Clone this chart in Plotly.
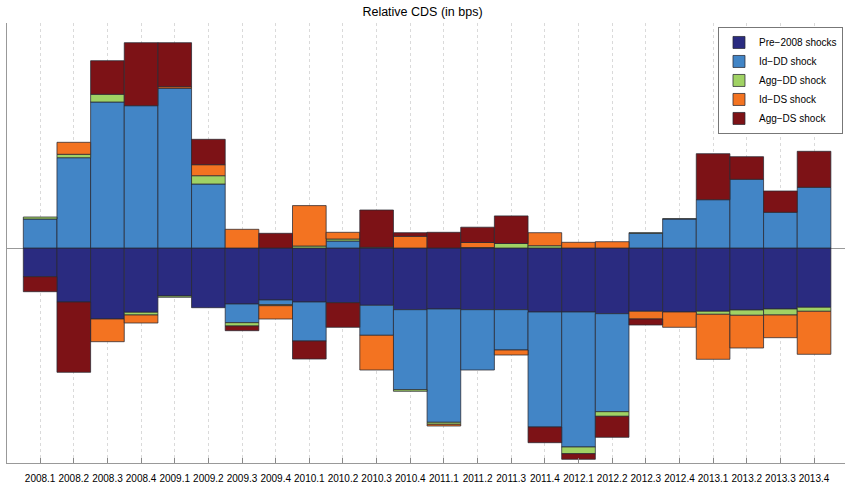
import plotly.graph_objects as go

quarters = ["2008.1", "2008.2", "2008.3", "2008.4", "2009.1", "2009.2", "2009.3", "2009.4",
            "2010.1", "2010.2", "2010.3", "2010.4", "2011.1", "2011.2", "2011.3", "2011.4",
            "2012.1", "2012.2", "2012.3", "2012.4", "2013.1", "2013.2", "2013.3", "2013.4"]

pre_2008 = [-28.7, -54, -71, -64.3, -48, -59.7, -56, -52, -54, -54.7, -57.3, -61.7,
            -61, -61.7, -61.7, -64, -64, -65.7, -63.3, -64, -63.3, -62, -61, -59.3]
id_dd = [29, 90.3, 146, 142.3, 159.7, 64, -18.7, -4.7, -39, 7, -30, -80,
         -113.3, -60.3, -40.3, -115, -135, -98, 14.7, 29, 48.3, 68.7, 35.7, 60.7]
agg_dd = [2, 3.4, 7.7, -2.7, -1.3, 8.3, -3.3, -1, 2, 2, 0.7, -1.6,
          -2, 0.5, 4.5, 2.3, -6.7, -4.6, 0.6, 0.3, -3, -5.3, -6, -4]
id_ds = [None, 12, -22.7, -8, 1.6, 11, 18.7, -13.3, 40.4, 6.7, -34.7, 11.7,
         -1.7, 5, -5, 13, 5.7, 6.3, -7.7, -15.3, -45, -32.7, -22.7, -43]
agg_ds = [-15, -70.3, 33.6, 63, 44, 25.4, -4.7, 14.7, -18, -24.6, 37.3, 3.6,
          15.7, 15.3, 27.6, -15.7, -5.6, -21, -6, None, 46, 22.6, 21.3, 36]

series = [
    ("Pre\u22122008 shocks", pre_2008, "rgb(42,43,128)"),
    ("Id\u2212DD shock", id_dd, "rgb(66,133,198)"),
    ("Agg\u2212DD shock", agg_dd, "rgb(160,210,100)"),
    ("Id\u2212DS shock", id_ds, "rgb(243,115,33)"),
    ("Agg\u2212DS shock", agg_ds, "rgb(125,18,22)"),
]

x = list(range(len(quarters)))
fig = go.Figure()
for name, vals, col in series:
    fig.add_trace(go.Bar(
        x=x, y=vals, name=name, width=1,
        marker=dict(color=col, line=dict(color="rgba(40,40,50,0.75)", width=1)),
    ))

fig.update_layout(
    barmode="relative",
    width=845, height=488,
    margin=dict(l=7, r=0, t=23, b=25),
    paper_bgcolor="white", plot_bgcolor="white",
    font=dict(family="Liberation Sans, Arial, sans-serif", size=10, color="black"),
    title=dict(text="Relative CDS (in bps)", x=0.5, xanchor="center",
               y=1 - 12 / 488, yanchor="middle", yref="container",
               font=dict(size=12.5)),
    showlegend=True,
    legend=dict(x=0.9976, xanchor="right", y=0.991, yanchor="top",
                bgcolor="white", bordercolor="#777", borderwidth=1,
                traceorder="normal", font=dict(size=10),
                itemwidth=30, tracegroupgap=0),
    xaxis=dict(range=[-0.985, 23.92], tickmode="array", tickvals=x, ticktext=quarters,
               showgrid=True, griddash="dot", gridcolor="#dadada", gridwidth=1,
               ticks="inside", ticklen=5, tickcolor="#888", ticklabelstandoff=6,
               showline=True, linecolor="#999", linewidth=1,
               zeroline=False, fixedrange=True, automargin=False),
    yaxis=dict(range=[-215, 225], showticklabels=False, showgrid=False,
               ticks="", zeroline=True, zerolinecolor="#999", zerolinewidth=1,
               showline=True, linecolor="#999", linewidth=1, fixedrange=True,
               automargin=False),
)

fig.write_html("out.html", config={"displayModeBar": False},
               post_script="document.body.style.margin='0';document.body.style.padding='0';")
